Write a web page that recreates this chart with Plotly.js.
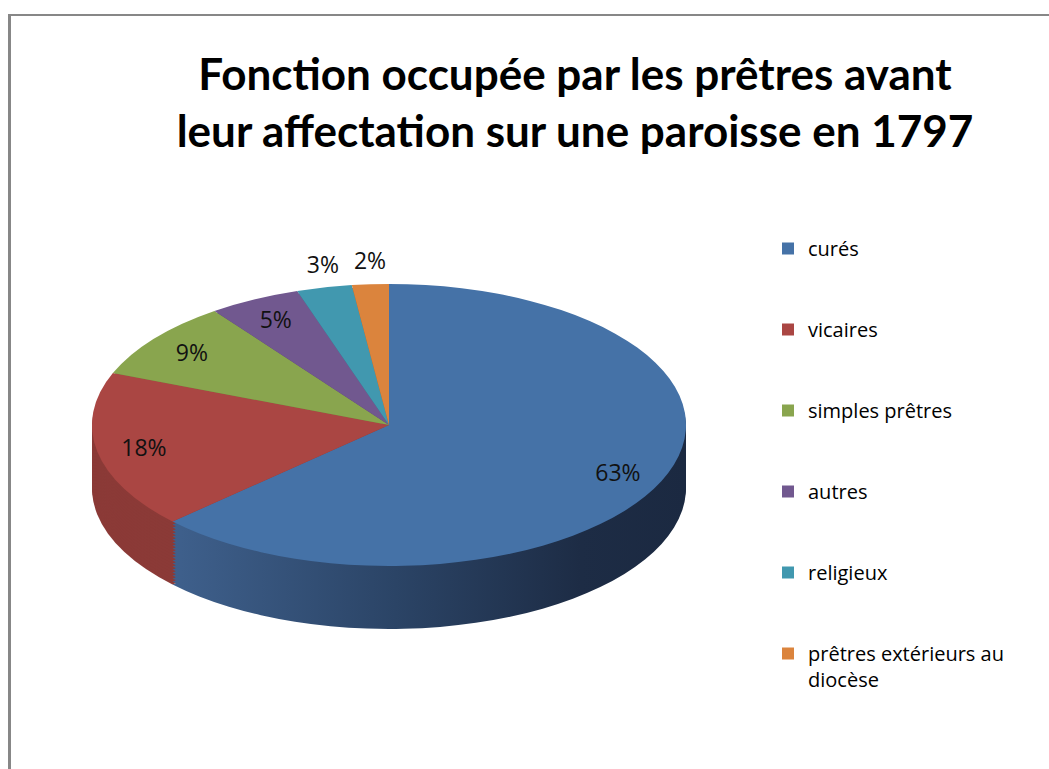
<!DOCTYPE html>
<html>
<head>
<meta charset="utf-8">
<script src="https://cdn.plot.ly/plotly-3.0.1.min.js"></script>
<style>
html,body{margin:0;padding:0;background:#ffffff;}
#chart{width:1049px;height:769px;}
</style>
</head>
<body>
<div id="chart"></div>
<script>
// ---- data ----
const categories = ['curés', 'vicaires', 'simples prêtres', 'autres', 'religieux', 'prêtres extérieurs au diocèse'];
const shares = [63, 18, 9, 5, 3, 2];
const legendNames = ['curés', 'vicaires', 'simples prêtres', 'autres', 'religieux', 'prêtres extérieurs au<br>diocèse'];
const topColors = ['#4572A7', '#AA4643', '#89A54E', '#71588F', '#4198AF', '#DB843D'];
const sideColors = ['#2c4467', '#8b3a37', '#6a813c', '#57446f', '#317486', '#a8632c'];
const labelPositions = ['inside', 'inside', 'inside', 'inside', 'outside', 'outside'];
const titleText = 'Fonction occupée par les prêtres avant<br>leur affectation sur une paroisse en 1797';

// ---- geometry of the fake 3D disc ----
const W = 1049, H = 769;
const centerX = 389, centerY = 425;   // screen centre of the top ellipse
const radiusX = 297, radiusY = 141;   // ellipse semi-axes
const depth = 63, step = 3;
const insideRho = 0.84, outsideGap = 24;

const domainX = [(centerX - radiusX) / W, (centerX + radiusX) / W];

function padName(n) {
  const lines = n.split('<br>').length;
  let s = n;
  for (let i = lines; i < 3; i++) s += '<br> ';
  return s;
}
const legendLabels = legendNames.map((n, i) => i === legendNames.length - 1 ? n : padName(n));

const offsets = [];
for (let o = depth; o > 0; o -= step) offsets.push(o);

const traces = [];
offsets.forEach(function (o) {
  traces.push({
    type: 'pie',
    labels: legendLabels,
    values: shares,
    sort: false,
    direction: 'clockwise',
    rotation: 0,
    domain: {x: domainX, y: [0, 1]},
    marker: {colors: sideColors, line: {width: 0}},
    textinfo: 'none',
    hoverinfo: 'skip',
    showlegend: false
  });
});
offsets.push(0);
traces.push({
  type: 'pie',
  labels: legendLabels,
  values: shares,
  customdata: categories,
  sort: false,
  direction: 'clockwise',
  rotation: 0,
  domain: {x: domainX, y: [0, 1]},
  marker: {colors: topColors, line: {width: 0}},
  textinfo: 'percent',
  textposition: labelPositions,
  insidetextorientation: 'horizontal',
  insidetextfont: {family: 'Open Sans, sans-serif', size: 23, color: '#111111'},
  outsidetextfont: {family: 'Open Sans, sans-serif', size: 23, color: '#111111'},
  hoverinfo: 'skip',
  showlegend: true
});

const layout = {
  width: W, height: H,
  margin: {l: 0, r: 0, t: 0, b: 0},
  paper_bgcolor: '#ffffff',
  plot_bgcolor: '#ffffff',
  font: {family: 'Open Sans, sans-serif', color: '#000000'},
  title: {
    text: titleText,
    x: 575 / W, xanchor: 'center', xref: 'paper',
    y: 1 - 90 / H, yanchor: 'top', yref: 'container',
    font: {family: 'Lato, sans-serif', size: 44, color: '#000000', weight: 700}
  },
  showlegend: true,
  legend: {
    x: 768 / W, xanchor: 'left',
    y: 1 - 229 / H, yanchor: 'top',
    valign: 'top',
    font: {family: 'Open Sans, sans-serif', size: 20, color: '#000000'},
    bgcolor: 'rgba(0,0,0,0)',
    traceorder: 'normal'
  },
  shapes: [
    {type: 'line', xref: 'paper', yref: 'paper', x0: 9.5 / W, x1: 9.5 / W, y0: 0, y1: 1 - 14 / H,
     line: {color: '#878787', width: 3}},
    {type: 'line', xref: 'paper', yref: 'paper', x0: 8 / W, x1: 1, y0: 1 - 15 / H, y1: 1 - 15 / H,
     line: {color: '#878787', width: 2}}
  ]
};

const gd = document.getElementById('chart');
Plotly.newPlot(gd, traces, layout, {staticPlot: true, displayModeBar: false}).then(function () {
  const groups = gd.querySelectorAll('.pielayer .trace');
  const svg = groups[0].ownerSVGElement;
  const NS = 'http://www.w3.org/2000/svg';
  // horizontal shading of the blue side wall
  const defs = document.createElementNS(NS, 'defs');
  const grad = document.createElementNS(NS, 'linearGradient');
  grad.setAttribute('id', 'sideBlue');
  grad.setAttribute('gradientUnits', 'userSpaceOnUse');
  grad.setAttribute('x1', centerX - radiusX * 0.78); grad.setAttribute('x2', centerX + radiusX);
  grad.setAttribute('y1', 0); grad.setAttribute('y2', 0);
  [[0, '#40628f'], [0.45, '#2b4466'], [0.8, '#1d2c45'], [1, '#1b2941']].forEach(function (s) {
    const st = document.createElementNS(NS, 'stop');
    st.setAttribute('offset', s[0]); st.setAttribute('stop-color', s[1]);
    grad.appendChild(st);
  });
  defs.appendChild(grad);
  svg.insertBefore(defs, svg.firstChild);

  let k = 1;
  groups.forEach(function (g, i) {
    const cd0 = gd.calcdata[i][0];
    k = radiusY / cd0.r;
    g.setAttribute('transform',
      'translate(0,' + (centerY + offsets[i]) + ') scale(1,' + k + ') translate(0,' + (-cd0.cy) + ')');
    if (i < groups.length - 1) {
      const p = g.querySelector('g.slice path.surface');
      if (p) p.style.fill = 'url(#sideBlue)';
    }
  });

  // label placement in the style of the original (along each slice's bisector)
  const total = shares.reduce(function (a, b) { return a + b; }, 0);
  let cum = 0;
  const mids = shares.map(function (v) { const m = (cum + v / 2) / total * 2 * Math.PI; cum += v; return m; });

  const topIdx = groups.length - 1;
  const topG = groups[topIdx];
  const cdTop = gd.calcdata[topIdx][0];
  topG.querySelectorAll('path.textline').forEach(function (p) { p.style.display = 'none'; });
  topG.querySelectorAll('g.slice').forEach(function (s, j) {
    const tg = s.querySelector('g.slicetext');
    if (!tg) return;
    const bb = tg.getBBox();
    const X = bb.x + bb.width / 2, Y = bb.y + bb.height / 2;
    const m = mids[j];
    let sx, sy;
    if (labelPositions[j] === 'outside') {
      sx = centerX + radiusX * 1.02 * Math.sin(m);
      sy = centerY - (radiusY + outsideGap) * Math.cos(m);
    } else {
      sx = centerX + radiusX * insideRho * Math.sin(m);
      sy = centerY - radiusY * insideRho * Math.cos(m);
    }
    const preY = cdTop.cy + (sy - centerY) / k;
    tg.setAttribute('transform',
      'translate(' + sx + ',' + preY + ') scale(1,' + (1 / k) + ') translate(' + (-X) + ',' + (-Y) + ')');
  });
});
</script>
</body>
</html>
